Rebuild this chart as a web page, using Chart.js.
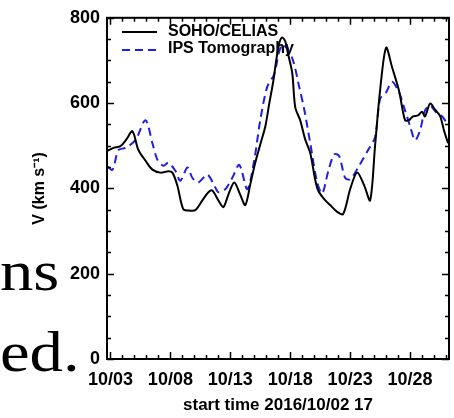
<!DOCTYPE html>
<html>
<head>
<meta charset="utf-8">
<script src="https://cdn.jsdelivr.net/npm/chart.js@4/dist/chart.umd.min.js"></script>
<style>
  html, body { margin: 0; padding: 0; background: #fff; }
  #wrap { position: relative; width: 454px; height: 418px; overflow: hidden; }
  canvas { position: absolute; left: 0; top: 0; }
  .serif {
    position: absolute; left: 0;
    font-family: "Liberation Serif", "Times New Roman", serif;
    font-size: 58px; line-height: 1; color: #000;
    transform: scaleX(1.15); transform-origin: left top;
    white-space: nowrap;
  }
</style>
</head>
<body>
<div id="wrap">
  <canvas id="speedChart" width="454" height="418"></canvas>
  <div class="serif" style="top:242px;">ns</div>
  <div class="serif" style="top:323px;">ed.</div>
</div>
<script>
// days of October 2016 (fractional) and solar wind speed, km/s
const sohoDays = [2.75, 3.25, 3.83, 4.33, 4.83, 5.33, 5.92, 6.5, 7.17, 7.83, 8.17, 8.58, 9.08, 9.58, 10.08,
  10.67, 11.17, 11.5, 12.0, 12.42, 12.83, 13.33, 13.83, 14.25, 14.67, 15.08, 15.5, 15.92, 16.25, 16.58,
  16.83, 17.08, 17.33, 17.58, 17.83, 18.17, 18.42, 18.83, 19.25, 19.67, 20.08, 20.33, 20.83, 21.33, 21.92,
  22.42, 23.0, 23.58, 24.17, 24.67, 25.08, 25.5, 26.0, 26.5, 27.08, 27.58, 27.92, 28.25, 28.67, 29.0,
  29.25, 29.67, 30.08, 30.5, 30.83, 31.17];
const sohoSpeed = [488, 495, 499, 515, 534, 490, 465, 444, 437, 440, 437, 407, 351, 348, 349,
  372, 391, 395, 372, 356, 385, 414, 385, 361, 410, 460, 503, 545, 599, 650,
  700, 740, 754, 745, 714, 670, 590, 560, 515, 483, 421, 395, 375, 361, 345,
  340, 398, 437, 407, 372, 500, 630, 730, 684, 629, 560, 560, 569, 571, 580,
  569, 599, 585, 570, 536, 506];

const ipsDays = [2.75, 3.17, 3.67, 4.25, 5.08, 5.92, 6.5, 6.92, 7.42, 7.83, 8.42, 8.83, 9.42, 9.83, 10.33,
  11.08, 11.75, 12.0, 12.58, 13.17, 13.75, 14.42, 15.0, 15.5, 16.08, 16.67, 17.08, 17.42, 18.17, 18.75,
  19.17, 19.67, 20.25, 20.67, 21.17, 21.67, 22.08, 22.58, 23.0, 23.75, 24.5, 25.08, 25.5, 26.0, 26.5,
  27.08, 27.58, 28.0, 28.42, 28.83, 29.25, 29.67, 30.25, 30.67, 31.08];
const ipsSpeed = [451, 444, 490, 495, 513, 560, 506, 467, 453, 460, 441, 418, 449, 425, 414,
  432, 402, 391, 398, 425, 455, 398, 467, 560, 638, 668, 721, 737, 705, 638,
  585, 506, 414, 388, 440, 480, 476, 425, 421, 453, 490, 520, 610, 625, 650,
  625, 583, 546, 513, 536, 583, 594, 576, 569, 553];

const seriesNames = ['SOHO/CELIAS', 'IPS Tomography'];
const xTickDays = [3, 8, 13, 18, 23, 28];
const xTickLabels = ['10/03', '10/08', '10/13', '10/18', '10/23', '10/28'];
const yTicks = [0, 200, 400, 600, 800];

const BLUE = 'rgb(30, 30, 230)';
const FONT = '"Liberation Sans", Arial, sans-serif';

// cadre + petites graduations vers l'intérieur sur les 4 côtés
const framePlugin = {
  id: 'frame',
  afterDatasetsDraw(chart) {
    const { ctx, chartArea: a, scales: { x, y } } = chart;
    ctx.save();
    ctx.strokeStyle = '#000';
    ctx.lineWidth = 1.5;
    ctx.beginPath();
    for (let d = Math.ceil(x.min); d <= x.max; d++) {
      const px = Math.round(x.getPixelForValue(d)) + 0.5;
      const len = xTickDays.includes(d) ? 7 : 4;
      ctx.moveTo(px, a.bottom); ctx.lineTo(px, a.bottom - len);
      ctx.moveTo(px, a.top); ctx.lineTo(px, a.top + len);
    }
    for (let v = 0; v <= 800; v += 50) {
      const py = Math.round(y.getPixelForValue(v)) + 0.5;
      const len = v % 200 === 0 ? 7 : 4;
      ctx.moveTo(a.left, py); ctx.lineTo(a.left + len, py);
      ctx.moveTo(a.right, py); ctx.lineTo(a.right - len, py);
    }
    ctx.stroke();
    ctx.lineWidth = 2;
    ctx.strokeRect(a.left, a.top, a.right - a.left, a.bottom - a.top);
    ctx.restore();
  }
};

// légende dessinée sous les courbes
const legendPlugin = {
  id: 'innerLegend',
  beforeDatasetsDraw(chart) {
    const { ctx } = chart;
    ctx.save();
    ctx.lineWidth = 2;
    ctx.strokeStyle = '#000';
    ctx.beginPath(); ctx.moveTo(122, 32); ctx.lineTo(157, 32); ctx.stroke();
    ctx.strokeStyle = BLUE;
    ctx.setLineDash([8, 5]);
    ctx.beginPath(); ctx.moveTo(122, 50); ctx.lineTo(157, 50); ctx.stroke();
    ctx.setLineDash([]);
    ctx.fillStyle = '#000';
    ctx.font = 'bold 16px ' + FONT;
    ctx.textBaseline = 'alphabetic';
    ctx.fillText(seriesNames[0], 168, 36);
    ctx.fillText(seriesNames[1], 168, 53);
    ctx.restore();
  }
};

const ctx = document.getElementById('speedChart').getContext('2d');
new Chart(ctx, {
  type: 'line',
  data: {
    datasets: [{
      label: seriesNames[0],
      data: sohoDays.map((d, i) => ({ x: d, y: sohoSpeed[i] })),
      borderColor: '#000',
      borderWidth: 2,
      pointRadius: 0,
      tension: 0.3,
      fill: false
    }, {
      label: seriesNames[1],
      data: ipsDays.map((d, i) => ({ x: d, y: ipsSpeed[i] })),
      borderColor: BLUE,
      borderWidth: 2,
      borderDash: [8, 5],
      pointRadius: 0,
      tension: 0.3,
      fill: false
    }]
  },
  options: {
    responsive: false,
    animation: false,
    devicePixelRatio: 1,
    layout: { padding: { top: 13, right: 5, left: 0, bottom: 0 } },
    plugins: { legend: { display: false }, tooltip: { enabled: false } },
    scales: {
      x: {
        type: 'linear',
        min: 2.71,
        max: 31.25,
        afterBuildTicks: s => { s.ticks = xTickDays.map(v => ({ value: v })); },
        afterFit: s => { s.height = 59; },
        grid: { display: false, drawTicks: false },
        border: { display: false },
        ticks: {
          autoSkip: false,
          maxRotation: 0,
          padding: 10,
          color: '#000',
          font: { family: FONT, size: 18, weight: 'bold' },
          callback: v => xTickLabels[xTickDays.indexOf(v)]
        },
        title: {
          display: true,
          text: 'start time 2016/10/02 17',
          color: '#000',
          font: { family: FONT, size: 17, weight: 'bold' },
          padding: { top: 0, bottom: 2 }
        }
      },
      y: {
        min: 0,
        max: 800,
        afterBuildTicks: s => { s.ticks = yTicks.map(v => ({ value: v })); },
        afterFit: s => { s.width = 107; },
        grid: { display: false, drawTicks: false },
        border: { display: false },
        ticks: {
          padding: 7,
          color: '#000',
          font: { family: FONT, size: 18, weight: 'bold' }
        },
        title: {
          display: true,
          text: 'V (km s\u207B\u00B9)',
          color: '#000',
          font: { family: FONT, size: 16, weight: 'bold' },
          padding: { top: 30, bottom: 0 }
        }
      }
    }
  },
  plugins: [legendPlugin, framePlugin]
});
</script>
</body>
</html>
